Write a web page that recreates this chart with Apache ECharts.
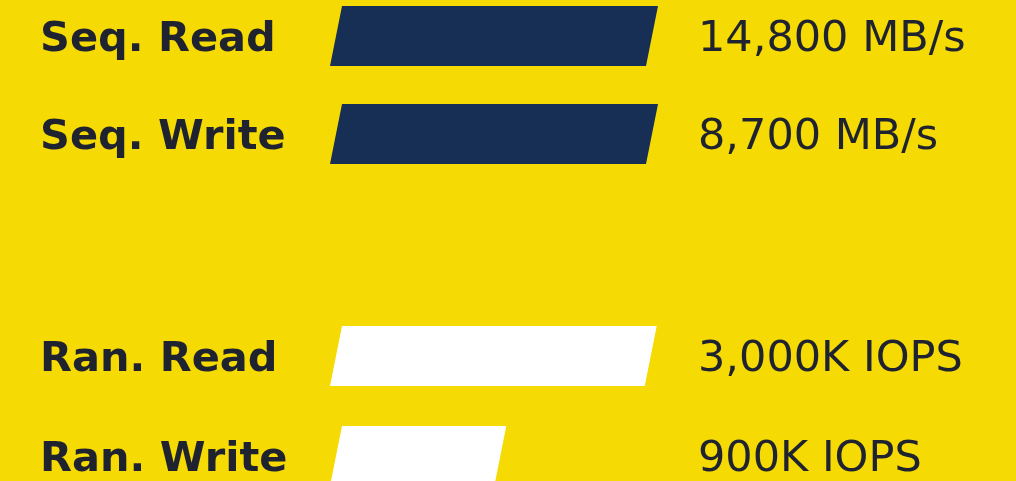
<!DOCTYPE html>
<html>
<head>
<meta charset="utf-8">
<script src="https://cdn.jsdelivr.net/npm/echarts@6/dist/echarts.min.js"></script>
<style>
  html, body { margin: 0; padding: 0; background: #f6da03; }
  #chart { width: 1016px; height: 481px; }
</style>
</head>
<body>
<div id="chart"></div>
<script>
// sequential group
const seqNames = ['Seq. Read', 'Seq. Write']
const seqValueLabels = ['14,800 MB/s', '8,700 MB/s']
const seqBarLength = [100, 100]   // bar length as drawn (% of full bar)

// random group
const ranNames = ['Ran. Read', 'Ran. Write']
const ranValueLabels = ['3,000K IOPS', '900K IOPS']
const ranBarLength = [99.6, 52]

const textColor = '#1f2330'
const fontFamily = 'DejaVu Sans'

const chart = echarts.init(document.getElementById('chart'))

// slanted bar (parallelogram)
function slantBar(color) {
  return function (params, api) {
    const start = api.coord([0, api.value(1)])
    const end = api.coord([api.value(0), api.value(1)])
    const h = 60
    const skew = 12
    const yTop = start[1] - h / 2
    const yBot = start[1] + h / 2
    return {
      type: 'polygon',
      shape: {
        points: [
          [start[0] + skew, yTop],
          [end[0] + skew, yTop],
          [end[0], yBot],
          [start[0], yBot]
        ]
      },
      style: { fill: color }
    }
  }
}

function barAxis(gridIndex, names) {
  return {
    type: 'category',
    gridIndex: gridIndex,
    inverse: true,
    data: names,
    show: false
  }
}

function leftAxis(gridIndex, names) {
  return {
    type: 'category',
    gridIndex: gridIndex,
    inverse: true,
    data: names,
    axisLine: { show: false },
    axisTick: { show: false },
    axisLabel: {
      align: 'left',
      margin: 290,
      color: textColor,
      fontFamily: fontFamily,
      fontWeight: 'bold',
      fontSize: 41.5
    }
  }
}

function rightAxis(gridIndex, labels) {
  return {
    type: 'category',
    gridIndex: gridIndex,
    position: 'right',
    inverse: true,
    data: labels,
    axisLine: { show: false },
    axisTick: { show: false },
    axisLabel: {
      align: 'left',
      margin: 52,
      color: textColor,
      fontFamily: fontFamily,
      fontSize: 43
    }
  }
}

function valueAxis(gridIndex) {
  return {
    type: 'value',
    gridIndex: gridIndex,
    min: 0,
    max: 100,
    show: false
  }
}

chart.setOption({
  backgroundColor: '#f6da03',
  animation: false,
  grid: [
    // bars
    { left: 330, width: 316, top: -13, height: 196, outerBoundsMode: 'none' },
    { left: 330, width: 316, top: 306, height: 200, outerBoundsMode: 'none' },
    // text labels sit a little lower than bar centres
    { left: 330, width: 316, top: -9, height: 196, outerBoundsMode: 'none' },
    { left: 330, width: 316, top: 310, height: 200, outerBoundsMode: 'none' }
  ],
  xAxis: [valueAxis(0), valueAxis(1), valueAxis(2), valueAxis(3)],
  yAxis: [
    barAxis(0, seqNames),
    barAxis(1, ranNames),
    leftAxis(2, seqNames),
    rightAxis(2, seqValueLabels),
    leftAxis(3, ranNames),
    rightAxis(3, ranValueLabels)
  ],
  series: [
    {
      type: 'custom',
      xAxisIndex: 0,
      yAxisIndex: 0,
      renderItem: slantBar('#172f55'),
      encode: { x: 0, y: 1 },
      data: seqBarLength.map((v, i) => [v, i])
    },
    {
      type: 'custom',
      xAxisIndex: 1,
      yAxisIndex: 1,
      renderItem: slantBar('#ffffff'),
      encode: { x: 0, y: 1 },
      data: ranBarLength.map((v, i) => [v, i])
    }
  ]
})
</script>
</body>
</html>
